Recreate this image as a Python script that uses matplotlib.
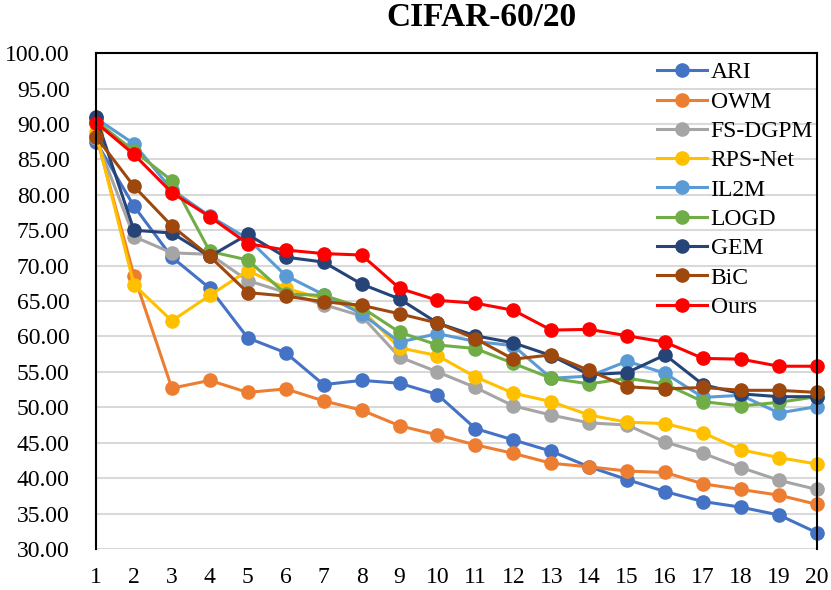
import matplotlib.pyplot as plt

# task index 1..20
tasks = list(range(1, 21))

ari = [87.5, 78.4, 71.2, 66.8, 59.8, 57.7, 53.2, 53.8, 53.4, 51.8,
       47.0, 45.4, 43.8, 41.6, 39.8, 38.1, 36.7, 35.9, 34.8, 32.3]
owm = [88.5, 68.6, 52.7, 53.8, 52.1, 52.6, 50.9, 49.6, 47.4, 46.1,
       44.7, 43.5, 42.1, 41.6, 41.0, 40.8, 39.2, 38.4, 37.6, 36.3]
fs_dgpm = [88.0, 74.1, 71.8, 71.6, 67.9, 66.2, 64.5, 62.9, 57.1, 55.0,
           52.8, 50.2, 48.9, 47.8, 47.5, 45.1, 43.5, 41.5, 39.7, 38.4]
rps_net = [88.8, 67.3, 62.2, 65.8, 69.3, 66.8, 65.3, 63.8, 58.4, 57.3,
           54.3, 52.0, 50.8, 48.9, 47.9, 47.7, 46.4, 44.0, 42.9, 42.0]
il2m = [90.8, 87.2, 80.7, 77.0, 73.8, 68.6, 65.9, 63.2, 59.2, 60.4,
        59.3, 58.7, 54.1, 54.4, 56.5, 54.8, 51.4, 51.7, 49.2, 50.1]
logd = [90.4, 86.2, 82.0, 72.0, 70.8, 66.0, 65.8, 64.1, 60.6, 58.8,
        58.3, 56.2, 54.1, 53.3, 54.1, 53.3, 50.8, 50.2, 50.7, 51.5]
gem = [91.0, 75.0, 74.6, 71.3, 74.4, 71.2, 70.5, 67.4, 65.3, 61.9,
       60.1, 59.1, 57.3, 54.6, 54.9, 57.4, 53.2, 51.9, 51.5, 51.5]
bic = [88.2, 81.2, 75.6, 71.3, 66.2, 65.7, 64.9, 64.4, 63.2, 61.9,
       59.7, 56.8, 57.4, 55.2, 52.9, 52.6, 52.8, 52.4, 52.4, 52.1]
ours = [90.2, 85.7, 80.3, 76.9, 73.1, 72.2, 71.7, 71.5, 66.8, 65.1,
        64.7, 63.7, 60.9, 61.0, 60.1, 59.2, 56.9, 56.8, 55.8, 55.8]

names = ["ARI", "OWM", "FS-DGPM", "RPS-Net", "IL2M", "LOGD", "GEM", "BiC", "Ours"]
series = [ari, owm, fs_dgpm, rps_net, il2m, logd, gem, bic, ours]
colors = ["#4472C4", "#ED7D31", "#A5A5A5", "#FFC000", "#5B9BD5",
          "#70AD47", "#264478", "#9E480E", "#FF0000"]

plt.rcParams["font.family"] = "Liberation Serif"

fig = plt.figure(figsize=(8.31, 5.90), dpi=100)
ax = fig.add_axes([0.1155, 0.0695, 0.8675, 0.8405])

for name, vals, c in zip(names, series, colors):
    ax.plot(tasks, vals, color=c, linewidth=2.2, marker="o", markersize=9.5,
            label=name, clip_on=False)

ax.set_xlim(1, 20)
ax.set_ylim(30, 100)
ax.set_xticks(tasks)
ax.set_yticks(range(30, 101, 5))
ax.set_yticklabels(["%.2f" % v for v in range(30, 101, 5)])
ax.tick_params(axis="both", length=0, labelsize=17)
ax.tick_params(axis="y", pad=19)
ax.tick_params(axis="x", pad=13)

ax.grid(axis="y", color="#D9D9D9", linewidth=1.5)
ax.set_axisbelow(True)
for s in ["left", "right", "top"]:
    ax.spines[s].set_color("black")
    ax.spines[s].set_linewidth(1.5)
ax.spines["bottom"].set_visible(False)

fig.text(0.579, 0.971, "CIFAR-60/20", fontsize=24, fontweight="bold",
         ha="center", va="center")

ax.legend(loc="upper right", bbox_to_anchor=(1.024, 1.025), frameon=False,
          fontsize=17, labelspacing=0.33, handlelength=2.1, handletextpad=0.15)

fig.savefig("out.png", dpi=100)
